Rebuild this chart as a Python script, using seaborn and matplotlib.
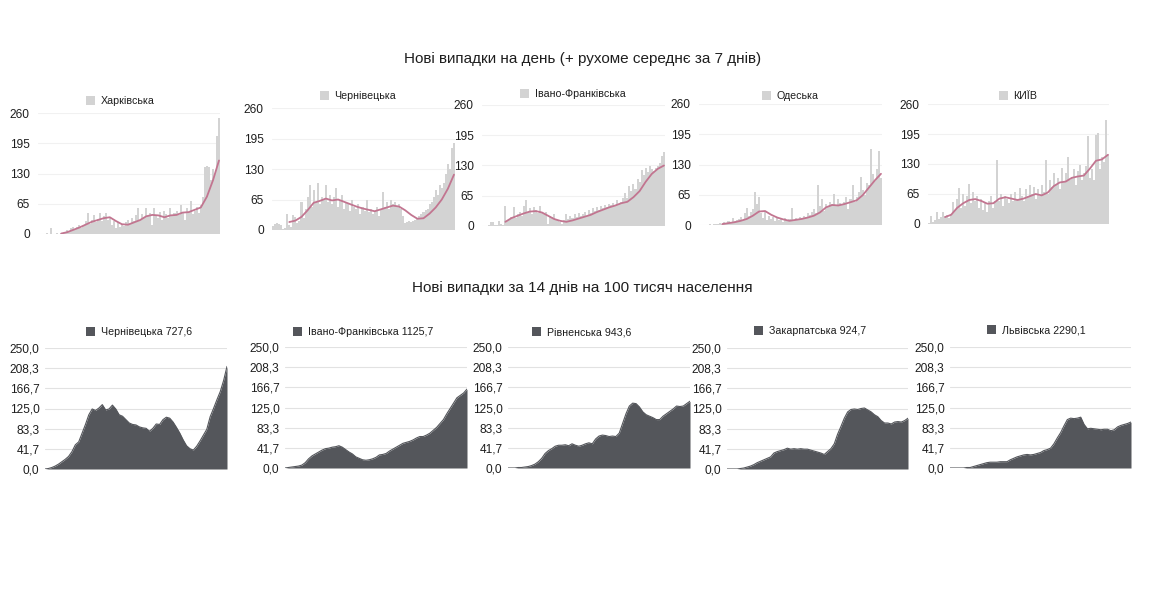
import numpy as np
import pandas as pd
import matplotlib
matplotlib.use('Agg')
import matplotlib.pyplot as plt
import seaborn as sns
from matplotlib.patches import Patch

# ---------------- data ----------------
title_top = "Нові випадки на день (+ рухоме середнє за 7 днів)"
title_bottom = "Нові випадки за 14 днів на 100 тисяч населення"

top_regions = ["Харківська", "Чернівецька", "Івано-Франківська", "Одеська", "КИЇВ"]

kharkiv_daily = [0, 0, 1, 0, 2, 1, 12, 1, 0, 2, 1, 3, 2,
                 5, 8, 4, 12, 15, 9, 14, 20, 12, 18,
                 28, 45, 22, 30, 40, 25, 33, 45, 28, 38, 46, 30,
                 35, 20, 28, 12, 25, 15, 22, 18,
                 25, 30, 22, 35, 28, 40, 55, 30, 42, 35, 55,
                 38, 45, 20, 55, 40, 35, 48, 30, 50, 42, 35, 55, 38, 45, 50, 40, 62, 45, 30, 55,
                 48, 70, 42, 50, 58, 45, 62,
                 80, 145, 146, 145, 115, 140, 130, 210, 250]
kharkiv_ma = [1, 4, 9, 14, 20, 26, 30, 34, 36, 28, 21, 20, 25, 30, 38, 41, 40, 36, 40, 41,
              46, 47, 52, 57, 80, 115, 158]

chernivtsi_daily = [8, 12, 14, 13, 10, 2, 4, 35, 10, 6, 32, 28, 15, 20, 60, 25, 45, 70,
                    95, 50, 85, 60, 100, 55, 70, 65, 95, 60, 75, 55, 70, 90, 50, 65,
                    75, 45, 60, 55, 40, 65, 50, 45, 55, 35, 50, 40, 64, 38, 45, 35,
                    40, 50, 30, 45, 80, 50, 60, 45, 65, 55, 60, 50, 55, 45, 30,
                    15, 18, 20, 16, 20, 22, 25, 30, 35, 38, 42, 45, 55, 60,
                    70, 85, 75, 96, 90, 100, 120, 140, 130, 175, 185]
chernivtsi_ma = [17, 20, 28, 42, 58, 62, 67, 63, 65, 60, 55, 50, 46, 43, 40, 44, 48, 52,
                 50, 42, 32, 24, 25, 35, 48, 65, 88, 118]

ivano_daily = [0, 1, 0, 2, 8, 9, 3, 2, 10, 5, 3, 42, 10, 15, 20, 40, 18, 25, 30, 22, 43, 56,
               30, 38, 25, 40, 35, 28, 42, 30, 25, 30, 5, 22, 20, 25, 15, 12,
               8, 5, 12, 25, 15, 22, 18, 25, 20, 28, 22, 25, 30, 22, 35, 28,
               38, 32, 40, 35, 42, 38, 45, 40, 48, 45, 50, 42, 55, 48, 52, 60,
               70, 60, 85, 75, 90, 80, 100, 95, 120, 110, 125, 115, 128, 122, 118, 125,
               130, 135, 150, 160]
ivano_ma = [9, 17, 22, 27, 31, 32, 29, 22, 15, 11, 9, 12, 16, 20, 24, 30, 35, 40, 44, 49,
            52, 62, 75, 95, 112, 123, 130]

odesa_daily = [0, 1, 1, 0, 1, 2, 1, 2, 3, 2, 4, 3, 6, 4, 8, 5, 15, 8, 10, 12,
               18, 10, 25, 36, 20, 28, 35, 70, 45, 60, 25,
               15, 30, 10, 20, 12, 18, 8, 15, 10, 12, 6, 15, 8, 12, 36, 10,
               14, 12, 18, 15, 20, 18, 25, 22, 28, 35, 25, 86, 40, 55, 30, 45,
               38, 50, 45, 66, 40, 55, 48, 42, 50, 60, 35, 55, 86, 50, 60, 70,
               104, 75, 65, 90, 85, 163, 110, 95, 120, 158, 100]
odesa_ma = [2, 4, 6, 9, 13, 20, 29, 30, 22, 16, 12, 9, 11, 13, 16, 20, 27, 38, 43, 42,
            45, 49, 53, 64, 80, 96, 110]

kyiv_daily = [2, 18, 5, 8, 25, 10, 15, 25, 18, 20, 12, 22, 48, 30, 55, 78,
              35, 65, 40, 60, 87, 45, 70, 50, 60, 35, 55, 30, 45, 25, 50, 60,
              35, 50, 139,
              50, 65, 40, 60, 55, 45, 65, 50, 70, 55, 78, 60, 50, 75, 60, 85,
              65, 80, 55, 75, 60, 85, 70, 139, 65, 95, 80, 110, 85, 100, 75, 121,
              90, 110, 145, 95, 100, 120, 85, 115, 128, 95, 110, 125, 191, 100, 120, 95,
              193, 198, 120, 145, 135, 225, 150]
kyiv_ma = [15, 20, 35, 45, 52, 54, 50, 44, 45, 55, 58, 55, 52, 55, 60, 65, 62, 68, 82, 90,
           92, 100, 103, 105, 120, 137, 140, 150]

top_ticks = [0, 65, 130, 195, 260]

bottom_regions = ["Чернівецька 727,6", "Івано-Франківська 1125,7", "Рівненська 943,6",
                  "Закарпатська 924,7", "Львівська 2290,1"]

chernivtsi_14d = [0, 1, 3, 6, 10, 15, 20, 26, 36, 50, 56, 74, 92, 112, 124, 121, 126, 133, 122, 124,
                  132, 124, 112, 109, 102, 95, 92, 91, 87, 85, 84, 78, 84, 93, 92, 102, 107, 105, 97, 86,
                  74, 60, 48, 42, 39, 47, 58, 70, 82, 108, 125, 143, 160, 183, 212]
ivano_14d = [0, 1, 2, 3, 4, 6, 11, 19, 25, 29, 33, 37, 40, 41, 43, 44, 46, 43, 38, 33,
             29, 23, 20, 17, 16, 17, 19, 22, 27, 28, 30, 35, 39, 43, 47, 51, 53, 55, 58, 62,
             65, 65, 68, 72, 78, 84, 92, 100, 112, 123, 134, 145, 150, 155, 163]
rivne_14d = [0, 0, 0, 1, 1, 2, 3, 5, 8, 13, 20, 30, 36, 40, 45, 47, 47, 48, 46, 50,
             47, 45, 47, 50, 52, 50, 60, 66, 68, 67, 65, 66, 65, 72, 92, 112, 128, 134, 133, 126,
             116, 110, 107, 104, 100, 100, 107, 112, 117, 122, 128, 127, 128, 133, 138]
zakarpattia_14d = [0, 0, 0, 0, 1, 2, 4, 6, 9, 13, 16, 19, 22, 25, 33, 36, 38, 40, 43, 41,
                   42, 41, 42, 41, 41, 39, 37, 35, 33, 30, 36, 42, 52, 72, 88, 105, 118, 123, 124, 123,
                   125, 126, 122, 118, 112, 108, 100, 95, 95, 93, 97, 98, 97, 100, 105]
lviv_14d = [0, 0, 0, 0, 0, 1, 1, 3, 5, 7, 9, 11, 12, 12, 12, 13, 13, 13, 17, 20,
            23, 25, 27, 28, 27, 28, 30, 32, 36, 38, 41, 50, 62, 73, 87, 100, 103, 102, 103, 105,
            90, 81, 82, 81, 80, 79, 80, 80, 77, 79, 85, 88, 90, 92, 95]

bottom_ticks = [0.0, 41.7, 83.3, 125.0, 166.7, 208.3, 250.0]

# ---------------- style ----------------
sns.set_theme(style='white')
plt.rcParams['font.family'] = ['Liberation Sans', 'DejaVu Sans']

BAR = '#d3d3d3'
MA = '#c27590'
AREA = '#54565b'
TXT = '#1e1e1e'

W, H = 1155, 606
fig = plt.figure(figsize=(W / 100, H / 100), dpi=100)
fig.patch.set_facecolor('white')


def ax_at(x0, x1, ytop, ybot):
    return fig.add_axes([x0 / W, 1 - ybot / H, (x1 - x0) / W, (ybot - ytop) / H])


def add_legend(ax, label, color, cx, cy):
    ax.legend(handles=[Patch(facecolor=color, edgecolor='none', label=label)],
              loc='center', bbox_to_anchor=(cx / W, 1 - cy / H),
              bbox_transform=fig.transFigure, frameon=False, fontsize=7.7,
              handlelength=0.85, handleheight=0.95, handletextpad=0.55,
              borderpad=0, borderaxespad=0, labelcolor=TXT)


def clean(ax):
    for s in ax.spines.values():
        s.set_visible(False)
    ax.set_xticks([])
    ax.set_xlabel('')
    ax.set_ylabel('')
    ax.set_axisbelow(True)


def top_panel(box, daily, ma, label, leg):
    ax = ax_at(*box)
    n = len(daily)
    df = pd.DataFrame({'day': np.arange(n), 'cases': daily})
    sns.histplot(data=df, x='day', weights='cases', discrete=True, element='step',
                 fill=True, color=BAR, alpha=1, linewidth=0, ax=ax)
    ma_days = n - 1 - 3 * np.arange(len(ma))[::-1]
    sns.lineplot(x=ma_days, y=ma, color=MA, lw=1.3, ax=ax)
    ax.set_xlim(-0.5, n - 0.5)
    ax.set_ylim(0, 260)
    ax.set_yticks(top_ticks)
    ax.set_yticklabels([str(t) for t in top_ticks])
    ax.yaxis.grid(True, color='#f1f1f1', lw=0.8)
    ax.tick_params(axis='y', length=0, pad=6, labelsize=8.6, labelcolor=TXT)
    clean(ax)
    add_legend(ax, label, BAR, *leg)


def bottom_panel(box, vals, label, leg):
    ax = ax_at(*box)
    x = np.arange(len(vals))
    sns.lineplot(x=x, y=vals, color=AREA, lw=0.8, ax=ax)
    ax.fill_between(x, vals, 0, color=AREA, lw=0)
    ax.set_xlim(0, len(vals) - 1)
    ax.set_ylim(0, 250)
    ax.set_yticks(bottom_ticks)
    ax.set_yticklabels([f"{t:.1f}".replace('.', ',') for t in bottom_ticks])
    ax.yaxis.grid(True, color='#e2e2e2', lw=0.8)
    ax.tick_params(axis='y', length=0, pad=4, labelsize=8.6, labelcolor=TXT)
    clean(ax)
    add_legend(ax, label, AREA, *leg)


top_boxes = [(38, 220, 113, 234), (272, 455, 108, 230), (482, 665, 105, 226),
             (699, 882, 104, 225), (928, 1109, 104, 224)]
top_legs = [(120, 101), (358, 96), (573, 94), (790, 96), (1018, 96)]
top_daily = [kharkiv_daily, chernivtsi_daily, ivano_daily, odesa_daily, kyiv_daily]
top_ma = [kharkiv_ma, chernivtsi_ma, ivano_ma, odesa_ma, kyiv_ma]

for b, d, m, lab, lg in zip(top_boxes, top_daily, top_ma, top_regions, top_legs):
    top_panel(b, d, m, lab, lg)

bottom_boxes = [(45, 227, 348, 469), (285, 467, 347, 468), (508, 690, 347, 468),
                (727, 908, 348, 469), (950, 1131, 347, 468)]
bottom_legs = [(139, 332), (363, 332), (582, 332), (810, 331), (1036, 330)]
bottom_vals = [chernivtsi_14d, ivano_14d, rivne_14d, zakarpattia_14d, lviv_14d]

for b, v, lab, lg in zip(bottom_boxes, bottom_vals, bottom_regions, bottom_legs):
    bottom_panel(b, v, lab, lg)

fig.text(583 / W, 1 - 59 / H, title_top, ha='center', va='center', fontsize=11.0, color=TXT)
fig.text(582 / W, 1 - 288 / H, title_bottom, ha='center', va='center', fontsize=11.0, color=TXT)

fig.savefig('out.png', dpi=100, facecolor='white')
